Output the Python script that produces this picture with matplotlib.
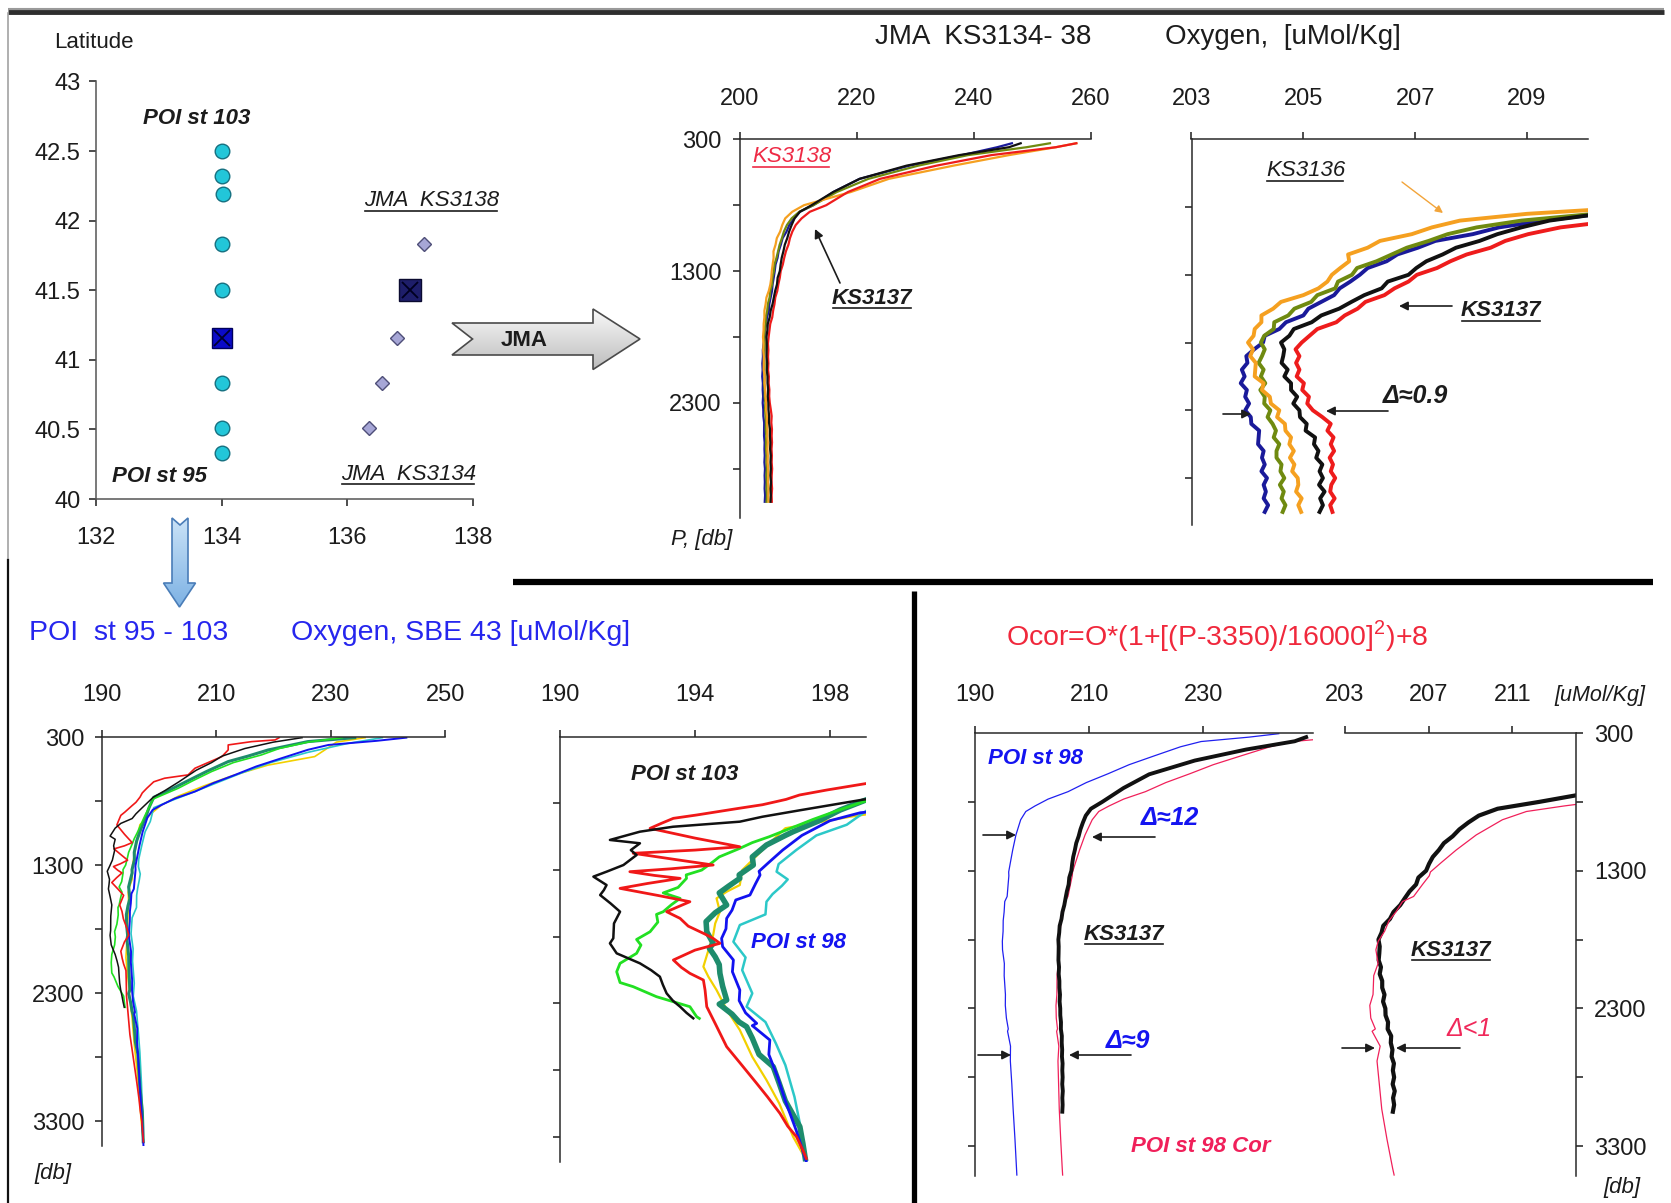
import numpy as np
import matplotlib
matplotlib.use("Agg")
import matplotlib.pyplot as plt
from matplotlib.patches import Polygon, FancyArrowPatch
from matplotlib.colors import LinearSegmentedColormap

plt.rcParams['font.family'] = ['Liberation Sans', 'DejaVu Sans']
plt.rcParams['mathtext.fontset'] = 'custom'
plt.rcParams['mathtext.rm'] = 'Liberation Sans'
plt.rcParams['axes.linewidth'] = 1.1

# ---------------- station positions ----------------
poi_lon = [134.0, 134.0, 134.03, 134.0, 134.0, 134.0, 134.0, 134.0]
poi_lat = [42.5, 42.32, 42.19, 41.83, 41.5, 40.83, 40.51, 40.33]
poi98_lon = [134.0]
poi98_lat = [41.16]
jma_lon = [137.22, 136.79, 136.56, 136.35]
jma_lat = [41.83, 41.16, 40.83, 40.51]
ks3137_lon = [137.01]
ks3137_lat = [41.5]

# ---------------- JMA profiles (pressure, db) ----------------
jma_pres = [330, 360, 420, 500, 600, 700, 800, 850, 900, 950, 1000, 1050, 1100, 1150,
            1200, 1250, 1300, 1350, 1400, 1450, 1500, 1550, 1600, 1650, 1700, 1750,
            1800, 1850, 1900, 1950, 2000, 2050, 2100, 2150, 2200, 2250, 2300, 2350,
            2400, 2450, 2500, 2550, 2600, 2650, 2700, 2750, 2800, 2850, 2900, 2950,
            3000, 3050]
ks3134 = [246.5, 244.0, 238.0, 229.0, 220.5, 216.0, 212.6, 210.3, 209.3, 208.5,
          208.03, 207.36, 207.05, 206.68, 206.49, 206.15, 206.01, 205.84, 205.65, 205.55,
          205.32, 205.09, 205.0, 204.69, 204.57, 204.31, 204.28, 204.12, 203.98, 204.0,
          203.9, 203.95, 203.88, 203.99, 203.96, 204.03, 203.96, 204.06, 204.07, 204.21,
          204.2, 204.19, 204.29, 204.26, 204.31, 204.25, 204.35, 204.29, 204.33, 204.29,
          204.37, 204.31]
ks3135 = [253.0, 249.0, 239.0, 230.5, 222.0, 216.6, 212.6, 210.2, 208.9, 208.1,
          207.58, 207.24, 206.85, 206.58, 206.31, 205.96, 205.87, 205.62, 205.57, 205.25,
          205.14, 204.84, 204.73, 204.48, 204.47, 204.3, 204.24, 204.31, 204.26, 204.2,
          204.29, 204.24, 204.32, 204.23, 204.31, 204.3, 204.41, 204.36, 204.45, 204.51,
          204.47, 204.57, 204.52, 204.52, 204.61, 204.59, 204.66, 204.58, 204.65, 204.61,
          204.68, 204.63]
ks3136 = [257.5, 254.0, 246.0, 236.5, 225.5, 219.0, 211.0, 209.0, 207.8, 207.3,
          206.94, 206.37, 206.15, 205.8, 205.82, 205.66, 205.51, 205.43, 205.27, 205.0,
          204.6, 204.46, 204.25, 204.25, 204.13, 204.11, 204.01, 204.1, 204.05, 204.15,
          204.14, 204.13, 204.29, 204.26, 204.4, 204.42, 204.57, 204.53, 204.67, 204.68,
          204.78, 204.75, 204.83, 204.76, 204.84, 204.8, 204.9, 204.91, 204.87, 204.97,
          204.91, 204.96]
ks3137 = [248.0, 246.0, 237.5, 228.5, 220.5, 216.0, 212.3, 210.3, 209.4, 208.9,
          208.47, 208.15, 207.73, 207.49, 207.2, 207.02, 206.88, 206.51, 206.4, 206.09,
          205.86, 205.64, 205.32, 205.15, 204.83, 204.75, 204.6, 204.66, 204.64, 204.61,
          204.72, 204.66, 204.78, 204.78, 204.89, 204.82, 204.93, 204.94, 205.06, 205.04,
          205.21, 205.19, 205.27, 205.23, 205.34, 205.29, 205.35, 205.28, 205.38, 205.3,
          205.35, 205.29]
ks3138 = [257.5, 254.0, 243.0, 233.6, 224.0, 218.5, 214.8, 212.0, 210.6, 209.6,
          209.02, 208.61, 208.35, 207.92, 207.63, 207.39, 207.03, 206.88, 206.63, 206.45,
          206.11, 205.97, 205.74, 205.59, 205.25, 205.11, 204.97, 204.86, 204.93, 204.87,
          204.93, 204.88, 205.01, 204.98, 205.1, 205.07, 205.17, 205.34, 205.49, 205.43,
          205.54, 205.49, 205.55, 205.47, 205.53, 205.49, 205.57, 205.5, 205.48, 205.56,
          205.48, 205.52]

# ---------------- POI profiles, SBE 43 ----------------
st103_p = [305, 340, 390, 450, 500, 560, 650, 720, 771, 852, 900, 937, 975, 1012, 1074, 1099,
           1150, 1187, 1262, 1310, 1349, 1412, 1450, 1487, 1550, 1612, 1700, 1811, 1849, 1924,
           1999, 2050, 2099, 2160, 2224, 2280, 2324, 2370, 2411]
st103_o = [225.0, 220.0, 215.0, 211.0, 209.2, 206.5, 203.5, 201.0, 199.0, 197.1, 196.0, 195.33,
           193.35, 192.37, 191.48, 192.37, 192.1, 192.27, 191.88, 191.4, 190.99, 191.38, 191.3,
           191.19, 191.5, 191.78, 191.6, 191.58, 191.48, 191.68, 192.37, 192.7, 192.96, 193.05,
           193.16, 193.35, 193.56, 193.75, 193.95]
st102_p = [305, 323, 336, 362, 401, 453, 544, 596, 622, 650, 700, 737, 770, 810, 837, 887, 912,
           950, 987, 1060, 1125, 1150, 1174, 1220, 1262, 1290, 1312, 1340, 1362, 1400, 1437,
           1490, 1537, 1575, 1612, 1662, 1720, 1780, 1812, 1849, 1900, 1974, 2030, 2074, 2124,
           2200, 2324, 2450, 2624, 2750, 2899, 3000, 3124, 3220, 3299, 3400, 3462]
st102_o = [221.0, 220.3, 216.2, 212.1, 212.1, 211.0, 206.3, 205.1, 201.0, 199.1, 197.9, 197.1,
           196.7, 196.0, 195.3, 194.05, 193.36, 193.0, 192.67, 194.0, 195.33, 194.0, 192.17,
           193.4, 194.54, 193.3, 192.07, 192.8, 193.56, 192.6, 191.78, 192.9, 193.85, 193.5,
           193.16, 193.56, 193.8, 194.3, 194.54, 194.74, 194.0, 193.36, 193.6, 193.85, 194.25,
           194.3, 194.35, 194.6, 194.94, 195.35, 195.83, 196.15, 196.52, 196.75, 197.01, 197.2,
           197.3]
st101_p = [305, 340, 390, 440, 500, 570, 640, 700, 784, 856, 920, 1000, 1050, 1094, 1137, 1201,
           1237, 1300, 1336, 1362, 1430, 1471, 1512, 1560, 1612, 1632, 1690, 1762, 1820, 1862,
           1924, 1999, 2062, 2143, 2174, 2249, 2324, 2399, 2412]
st101_o = [232.0, 226.0, 221.0, 217.9, 213.0, 209.2, 206.0, 203.4, 199.03, 198.2, 197.5, 196.7,
           196.2, 195.7, 195.33, 194.72, 194.54, 194.2, 193.74, 193.75, 193.5, 193.06, 193.56,
           193.3, 193.06, 192.86, 192.9, 192.67, 192.27, 192.4, 192.27, 191.78, 191.68, 191.78,
           192.17, 192.86, 193.85, 194.05, 194.13]
st100_p = [305, 336, 401, 450, 492, 570, 648, 700, 740, 771, 850, 932, 1012, 1040, 1112, 1201,
           1262, 1336, 1362, 1420, 1471, 1562, 1620, 1686, 1762, 1849, 1887, 1950, 2009, 2074,
           2170, 2274, 2305, 2380, 2439, 2474, 2560, 2682, 2774, 2900, 3031, 3130, 3224, 3350,
           3462]
st100_o = [234.2, 226.0, 219.1, 215.5, 212.1, 208.3, 204.8, 202.5, 200.6, 199.1, 198.3, 197.66,
           196.91, 196.68, 196.12, 195.7, 195.73, 195.31, 195.33, 195.0, 194.72, 194.94, 194.6,
           194.33, 194.35, 194.54, 194.43, 194.6, 194.72, 194.74, 194.82, 194.94, 194.72, 195.1,
           195.31, 195.53, 195.7, 195.9, 196.32, 196.5, 196.68, 196.9, 197.11, 197.2, 197.27]
st98_p = [305, 330, 362, 400, 466, 530, 596, 660, 726, 780, 830, 870, 930, 1040, 1150, 1240,
          1309, 1337, 1400, 1487, 1524, 1600, 1662, 1740, 1812, 1874, 1974, 2062, 2199, 2278,
          2370, 2449, 2466, 2574, 2682, 2850, 3031, 3250, 3462, 3510]
st98_o = [243.2, 238.0, 229.6, 226.0, 221.4, 217.0, 213.3, 209.5, 206.3, 202.8, 200.5, 198.9,
          198.0, 197.17, 196.6, 196.2, 195.9, 195.93, 195.8, 195.63, 195.21, 195.1, 194.94,
          194.92, 194.79, 194.82, 195.14, 195.11, 195.33, 195.31, 195.5, 195.83, 195.7, 196.22,
          196.19, 196.45, 196.68, 197.0, 197.27, 197.33]
st97_p = [305, 350, 420, 500, 580, 660, 740, 800, 852, 960, 1040, 1150, 1255, 1312, 1370, 1417,
          1480, 1537, 1632, 1712, 1837, 1955, 2050, 2224, 2324, 2439, 2600, 2762, 3000, 3250,
          3462]
st97_o = [239.0, 233.0, 226.0, 219.5, 214.5, 210.0, 205.5, 202.0, 199.1, 198.5, 197.6, 197.0,
          196.48, 196.42, 196.75, 196.58, 196.3, 196.12, 196.09, 195.33, 195.14, 195.5, 195.4,
          195.7, 195.53, 196.09, 196.4, 196.68, 196.95, 197.15, 197.27]
st96_p = [305, 340, 400, 453, 520, 600, 680, 760, 830, 900, 986, 1100, 1200, 1300, 1412, 1462,
          1512, 1612, 1700, 1787, 1900, 2024, 2100, 2199, 2350, 2499, 2700, 2874, 3050, 3299,
          3462]
st96_o = [236.0, 231.0, 229.0, 227.2, 219.0, 213.0, 208.0, 203.5, 200.5, 198.6, 196.68, 196.2,
          195.8, 195.4, 195.33, 194.94, 194.64, 194.74, 194.6, 194.54, 194.4, 194.25, 194.4,
          194.64, 194.95, 195.33, 195.7, 196.12, 196.5, 196.91, 197.27]

# pressure correction written in the panel title
cor_p0, cor_scale, cor_offset = 3350.0, 16000.0, 8.0

W, H = 1671, 1203
fig = plt.figure(figsize=(W / 100, H / 100), dpi=100)
fig.patch.set_facecolor('white')

INK = '#1c1c1c'
TICK_FS = 17


def px_axes(l, t, r, b):
    return fig.add_axes([l / W, 1 - b / H, (r - l) / W, (b - t) / H])


def profile_axes(l, t, r, b, xlim, ylim, xticks, yticks, ylabels, right=False,
                 xpad=16, ypad=8):
    ax = px_axes(l, t, r, b)
    ax.set_facecolor('none')
    ax.set_xlim(*xlim)
    ax.set_ylim(*ylim)
    ax.xaxis.tick_top()
    ax.spines['bottom'].set_visible(False)
    if right:
        ax.yaxis.tick_right()
        ax.spines['left'].set_visible(False)
    else:
        ax.spines['right'].set_visible(False)
    for s in ('top', 'left', 'right'):
        ax.spines[s].set_color('#2a2a2a')
    ax.set_xticks(xticks)
    ax.set_xticklabels([str(v) for v in xticks])
    ax.set_yticks(yticks)
    ax.set_yticklabels(ylabels)
    ax.tick_params(axis='x', direction='out', length=5, width=1.1, pad=xpad,
                   labelsize=TICK_FS, colors=INK)
    ax.tick_params(axis='y', direction='out', length=5, width=1.1, pad=ypad,
                   labelsize=TICK_FS, colors=INK)
    return ax


# ---------------- station map ----------------
axm = px_axes(96, 81.4, 472.6, 499)
axm.set_facecolor('none')
axm.set_xlim(132, 138)
axm.set_ylim(40, 43)
axm.spines['top'].set_visible(False)
axm.spines['right'].set_visible(False)
for s in ('left', 'bottom'):
    axm.spines[s].set_color('#555555')
axm.set_xticks([132, 134, 136, 138])
axm.set_yticks([40, 40.5, 41, 41.5, 42, 42.5, 43])
axm.set_yticklabels(['40', '40.5', '41', '41.5', '42', '42.5', '43'])
axm.tick_params(axis='x', direction='out', length=5, width=1.1, pad=15,
                labelsize=TICK_FS, colors=INK)
axm.tick_params(axis='y', direction='out', length=5, width=1.1, pad=6,
                labelsize=TICK_FS, colors=INK)
axm.plot(poi_lon, poi_lat, 'o', ms=10.5, mfc='#22C6D9', mec='#167080', mew=1.0, ls='none')
axm.plot(poi98_lon, poi98_lat, 's', ms=14.5, mfc='#0B0BC8', mec='#00005A', mew=1.0, ls='none')
axm.plot(poi98_lon, poi98_lat, 'x', ms=11, mec='#000030', mew=1.3, ls='none')
axm.plot(jma_lon, jma_lat, 'D', ms=7.4, mfc='#A6A6D6', mec='#4E4E78', mew=1.0, ls='none')
axm.plot(ks3137_lon, ks3137_lat, 's', ms=15.5, mfc='#1E1E6A', mec='#0A0A30', mew=1.0, ls='none')
axm.plot(ks3137_lon, ks3137_lat, 'x', ms=11, mec='#000020', mew=1.3, ls='none')

# ---------------- JMA full range ----------------
jma_sets = [(ks3134, '#1A1A9A'), (ks3135, '#6F8A10'), (ks3136, '#F5A020'),
            (ks3138, '#EE1C1C'), (ks3137, '#111111')]
axj = profile_axes(739.5, 139.3, 1091, 518, (200, 260), (3173, 300), [200, 220, 240, 260],
                   [300, 800, 1300, 1800, 2300, 2800], ['300', '', '1300', '', '2300', ''],
                   xpad=16, ypad=8)
for vals, col in jma_sets:
    axj.plot(vals, jma_pres, color=col, lw=1.6, solid_joinstyle='round')

axjz = profile_axes(1191.5, 139.3, 1588, 524.8, (203, 210.09), (3145, 300), [203, 205, 207, 209],
                    [800, 1300, 1800, 2300, 2800], ['', '', '', '', ''], xpad=16, ypad=8)
for vals, col in jma_sets:
    axjz.plot(vals, jma_pres, color=col, lw=2.8, solid_joinstyle='round')

# ---------------- POI full range and zoom ----------------
poi_sets = [(st96_p, st96_o, '#F2D000', 1.2, 1.6),
            (st97_p, st97_o, '#2CC8C8', 1.2, 1.8),
            (st100_p, st100_o, '#1E8C6C', 2.2, 4.0),
            (st98_p, st98_o, '#1212F0', 1.4, 2.0),
            (st101_p, st101_o, '#22E022', 1.2, 2.0),
            (st102_p, st102_o, '#F01818', 1.2, 2.0),
            (st103_p, st103_o, '#111111', 1.1, 1.8)]
axp = profile_axes(101.6, 737, 445.3, 1146, (190, 250), (3495, 300), [190, 210, 230, 250],
                   [300, 800, 1300, 1800, 2300, 2800, 3300],
                   ['300', '', '1300', '', '2300', '', '3300'], xpad=17, ypad=7.5)
for p, o, col, lw1, lw2 in poi_sets:
    axp.plot(o, p, color=col, lw=lw1)

axpz = profile_axes(560, 736.7, 866, 1161.7, (190, 199.07), (3486, 300), [190, 194, 198],
                    [800, 1300, 1800, 2300, 2800, 3300], ['', '', '', '', '', ''],
                    xpad=17, ypad=8)
for p, o, col, lw1, lw2 in poi_sets:
    axpz.plot(o, p, color=col, lw=lw2)

# ---------------- corrected POI st 98 vs KS3137 ----------------
st98_pa = np.array(st98_p, dtype=float)
st98_oa = np.array(st98_o, dtype=float)
st98_cor = st98_oa * (1 + ((st98_pa - cor_p0) / cor_scale) ** 2) + cor_offset

axc1 = profile_axes(975, 733, 1313, 1176, (190, 249.2), (3517, 300), [190, 210, 230],
                    [800, 1300, 1800, 2300, 2800, 3300], ['', '', '', '', '', ''],
                    xpad=14.5, ypad=8)
axc1.plot(st98_o, st98_p, color='#2020F0', lw=0.9)
axc1.plot(st98_cor, st98_p, color='#F0205A', lw=0.9)
axc1.plot(ks3137, jma_pres, color='#111111', lw=2.8)

axc2 = profile_axes(1345, 733, 1576, 1176, (203, 214.05), (3517, 300), [203, 207, 211],
                    [300, 800, 1300, 1800, 2300, 2800, 3300],
                    ['300', '', '1300', '', '2300', '', '3300'], right=True,
                    xpad=14.5, ypad=8)
axc2.plot(ks3137, jma_pres, color='#111111', lw=3.0)
axc2.plot(st98_cor, st98_p, color='#F0205A', lw=0.9)

# ---------------- overlay in pixel coordinates ----------------
ov = fig.add_axes([0, 0, 1, 1])
ov.set_zorder(10)
ov.patch.set_alpha(0)
ov.axis('off')
underlined = []


def label(x, y, s, size=17, color=INK, weight='normal', style='normal', ha='left',
          under=False):
    t = ov.text(x, y, s, fontsize=size, color=color, fontweight=weight, fontstyle=style,
                ha=ha, va='center')
    if under:
        underlined.append((t, color))
    return t


def arrow(x0, y0, x1, y1, color=INK, lw=1.2, ms=13):
    ov.add_patch(FancyArrowPatch((x0, y0), (x1, y1), arrowstyle='-|>', mutation_scale=ms,
                                 lw=lw, color=color, shrinkA=0, shrinkB=0))


def grad_shape(pts, c_top, c_bot, edge):
    poly = Polygon(pts, closed=True, facecolor='none', edgecolor=edge, lw=1.2, zorder=3)
    ov.add_patch(poly)
    xs = [q[0] for q in pts]
    ys = [q[1] for q in pts]
    g = np.linspace(0, 1, 64)[:, None]
    cmap = LinearSegmentedColormap.from_list('shade', [c_top, c_bot])
    im = ov.imshow(g, extent=[min(xs), max(xs), max(ys), min(ys)], cmap=cmap,
                   aspect='auto', origin='upper', zorder=2)
    im.set_clip_path(poly)


# frame pieces
ov.plot([8, 1664], [8.5, 8.5], color='#9a9a9a', lw=1.5, solid_capstyle='butt')
ov.plot([8, 1664], [11.5, 11.5], color='#2e2e2e', lw=3.5, solid_capstyle='butt')
ov.plot([8, 8], [13, 560], color='#9a9a9a', lw=1.1)
ov.plot([8, 8], [560, 1203], color='#111111', lw=1.6)
ov.plot([513, 1653], [582, 582], color='black', lw=4.5, solid_capstyle='butt')
ov.plot([914, 914], [591, 1203], color='black', lw=3.8, solid_capstyle='butt')

# arrows linking the panels
grad_shape([(452, 323), (593, 323), (593, 309), (640, 339), (593, 369.5), (593, 355),
            (452, 355), (472.5, 339)], '#FAFAFA', '#BDBDBD', '#4a4a4a')
label(524, 340, 'JMA', size=16, weight='bold', ha='center')
grad_shape([(172, 518), (180, 525), (188, 518), (188, 583), (195.5, 583), (179.5, 607),
            (163.5, 583), (172, 583)], '#C9E2F7', '#7EB2E4', '#4A7DB8')

# map labels
label(54, 43, 'Latitude', size=16)
label(143, 118, 'POI st 103', size=16, weight='bold', style='italic')
label(112, 477, 'POI st 95', size=16, weight='bold', style='italic')
label(364, 201, 'JMA  KS3138', size=16, style='italic', under=True)
label(341, 474, 'JMA  KS3134', size=16, style='italic', under=True)

# top titles
label(875, 37, 'JMA  KS3134- 38', size=20)
label(1165, 37, 'Oxygen,  [uMol/Kg]', size=20)

# top-middle annotations
label(752, 157, 'KS3138', size=16, color='#EE2A45', style='italic', under=True)
label(832, 298, 'KS3137', size=16, weight='bold', style='italic', under=True)
arrow(840, 283, 815, 229)
label(671, 539, 'P, [db]', size=16, style='italic')

# top-right annotations
label(1266, 171, 'KS3136', size=16, style='italic', under=True)
arrow(1402, 182, 1443, 213, color='#F2A43A', lw=1.0, ms=11)
label(1461, 311, 'KS3137', size=16, weight='bold', style='italic', under=True)
arrow(1452, 306, 1399, 306)
label(1383, 396, 'Δ≈0.9', size=18, weight='bold', style='italic')
arrow(1388, 411, 1326, 411)
arrow(1223, 414, 1251, 414)

# bottom-left titles
label(29, 633, 'POI  st 95 - 103', size=20.5, color='#2626EE')
label(291, 633, 'Oxygen, SBE 43 [uMol/Kg]', size=20.5, color='#2626EE')
label(34, 1173, '[db]', size=16, style='italic')

# bottom-middle annotations
label(631, 775, 'POI st 103', size=16, weight='bold', style='italic')
label(751, 942, 'POI st 98', size=16, weight='bold', style='italic', color='#1414F0')

# bottom-right annotations
label(1006, 636, r'Ocor=O*(1+[(P-3350)/16000]$^{2}$)+8', size=20.5, color='#F0283C')
label(1554, 695, '[uMol/Kg]', size=15.5, style='italic')
label(1603, 1188, '[db]', size=16, style='italic')
label(988, 759, 'POI st 98', size=16, weight='bold', style='italic', color='#1414F0')
label(1141, 818, 'Δ≈12', size=18, weight='bold', style='italic', color='#1414F0')
arrow(1155, 837, 1092, 837)
arrow(983, 835, 1016, 835)
label(1084, 934, 'KS3137', size=16, weight='bold', style='italic', under=True)
label(1106, 1041, 'Δ≈9', size=18, weight='bold', style='italic', color='#1414F0')
arrow(1131, 1055, 1069, 1055)
arrow(978, 1055, 1011, 1055)
label(1411, 950, 'KS3137', size=16, weight='bold', style='italic', under=True)
label(1446, 1029, 'Δ<1', size=18, style='italic', color='#F0285A')
arrow(1460, 1048, 1396, 1048)
arrow(1342, 1048, 1375, 1048)
label(1131, 1146, 'POI st 98 Cor', size=16, weight='bold', style='italic', color='#F0205A')

ov.set_xlim(0, W)
ov.set_ylim(H, 0)

# underline the labelled station names
fig.canvas.draw()
renderer = fig.canvas.get_renderer()
inv = ov.transData.inverted()
for t, col in underlined:
    bb = t.get_window_extent(renderer)
    (x0, y0), (x1, _) = inv.transform([(bb.x0, bb.y0), (bb.x1, bb.y0)])
    ov.plot([x0 + 1, x1 - 2], [y0 - 1, y0 - 1], color=col, lw=1.2)
ov.set_xlim(0, W)
ov.set_ylim(H, 0)

fig.savefig('out.png', dpi=100, facecolor='white')
